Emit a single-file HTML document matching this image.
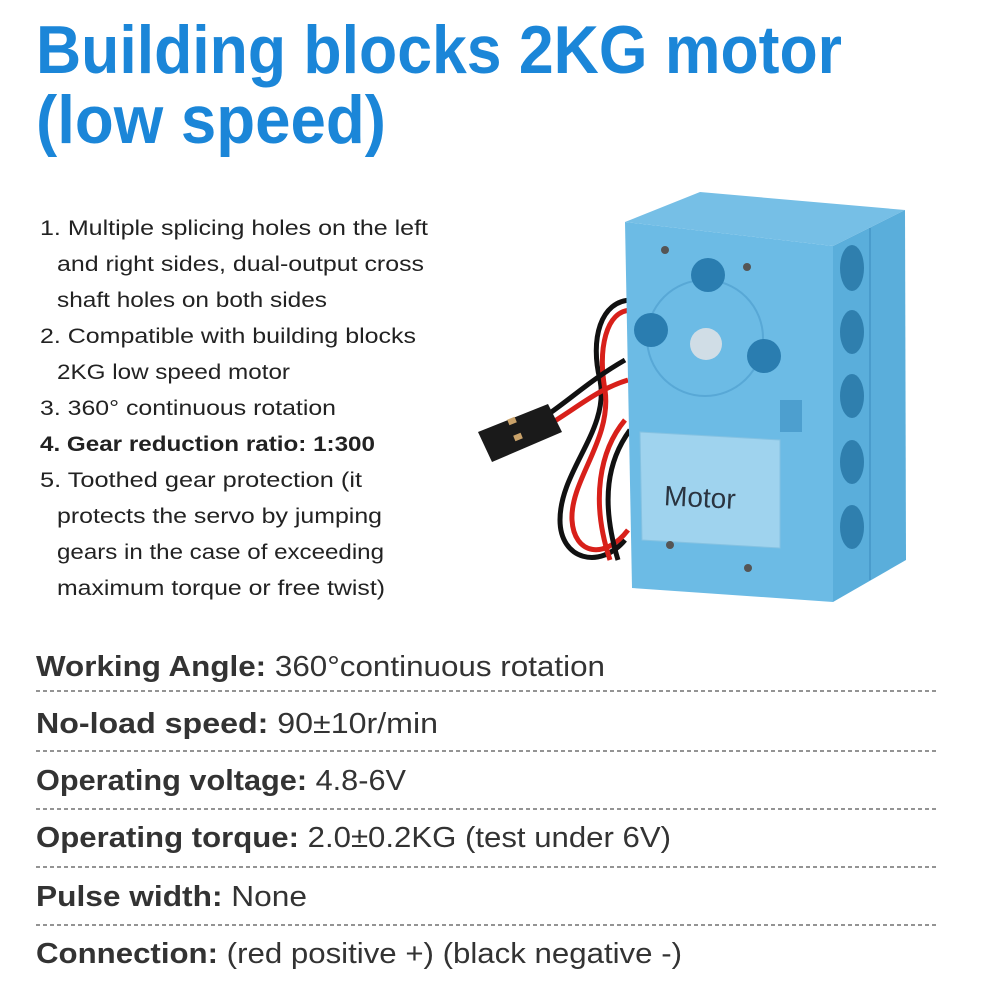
<!DOCTYPE html>
<html><head><meta charset="utf-8"><style>
html,body{margin:0;padding:0;background:#fff;}
svg{display:block}
.t{font-family:"Liberation Sans","Noto Sans CJK SC",sans-serif;font-weight:bold;fill:#1b86d8;font-size:68px}
.l{font-family:"Liberation Sans","Noto Sans CJK SC",sans-serif;font-size:21px;fill:#222}
.s{font-family:"Liberation Sans","Noto Sans CJK SC",sans-serif;font-size:29px;fill:#333}
.b{font-weight:bold}
</style></head><body>
<svg width="1000" height="1000" viewBox="0 0 1000 1000" xmlns="http://www.w3.org/2000/svg">
<text class="t" x="36" y="73" textLength="806" lengthAdjust="spacingAndGlyphs">Building blocks 2KG motor</text>
<text class="t" x="36" y="143" textLength="350" lengthAdjust="spacingAndGlyphs">(low speed)</text>

<g class="l">
<text x="40" y="235" textLength="388" lengthAdjust="spacingAndGlyphs">1. Multiple splicing holes on the left</text>
<text x="57" y="271" textLength="367" lengthAdjust="spacingAndGlyphs">and right sides, dual-output cross</text>
<text x="57" y="307" textLength="270" lengthAdjust="spacingAndGlyphs">shaft holes on both sides</text>
<text x="40" y="343" textLength="376" lengthAdjust="spacingAndGlyphs">2. Compatible with building blocks</text>
<text x="57" y="379" textLength="233" lengthAdjust="spacingAndGlyphs">2KG low speed motor</text>
<text x="40" y="415" textLength="296" lengthAdjust="spacingAndGlyphs">3. 360° continuous rotation</text>
<text x="40" y="451" class="b" textLength="335" lengthAdjust="spacingAndGlyphs">4. Gear reduction ratio: 1:300</text>
<text x="40" y="487" textLength="322" lengthAdjust="spacingAndGlyphs">5. Toothed gear protection (it</text>
<text x="57" y="523" textLength="325" lengthAdjust="spacingAndGlyphs">protects the servo by jumping</text>
<text x="57" y="559" textLength="327" lengthAdjust="spacingAndGlyphs">gears in the case of exceeding</text>
<text x="57" y="595" textLength="328" lengthAdjust="spacingAndGlyphs">maximum torque or free twist)</text>
</g>

<!-- motor -->
<g>
<!-- wires -->
<path d="M632 300 C600 300 590 340 600 380 C610 430 560 470 560 520 C560 560 600 570 625 540" fill="none" stroke="#111" stroke-width="5"/>
<path d="M632 310 C605 310 598 350 605 390 C612 440 570 480 572 520 C574 555 605 560 628 530" fill="none" stroke="#d8201a" stroke-width="5"/>
<path d="M540 420 C570 400 590 380 625 360" fill="none" stroke="#111" stroke-width="5"/>
<path d="M540 430 C575 410 595 390 628 380" fill="none" stroke="#d8201a" stroke-width="5"/>
<path d="M625 420 C600 450 590 500 610 560" fill="none" stroke="#d8201a" stroke-width="5"/>
<path d="M630 430 C608 460 600 500 618 560" fill="none" stroke="#111" stroke-width="5"/>
<polygon points="478,432 548,404 562,432 492,462" fill="#1a1a1a"/>
<rect x="508" y="418" width="8" height="6" fill="#c9a26a" transform="rotate(-22 512 421)"/>
<rect x="514" y="434" width="8" height="6" fill="#c9a26a" transform="rotate(-22 518 437)"/>
<!-- top face -->
<polygon points="625,222 700,192 905,210 833,246" fill="#76bfe6"/>
<!-- side face -->
<polygon points="833,246 905,210 906,560 833,602" fill="#5aaedb"/>
<!-- front face -->
<polygon points="625,222 833,246 833,602 632,588" fill="#6cbbe5"/>
<line x1="870" y1="228" x2="870" y2="580" stroke="#4a9ccc" stroke-width="2"/>
<g fill="#2f7fae">
<ellipse cx="852" cy="268" rx="12" ry="23"/>
<ellipse cx="852" cy="332" rx="12" ry="22"/>
<ellipse cx="852" cy="396" rx="12" ry="22"/>
<ellipse cx="852" cy="462" rx="12" ry="22"/>
<ellipse cx="852" cy="527" rx="12" ry="22"/>
</g>
<circle cx="705" cy="338" r="58" fill="none" stroke="#58a8d6" stroke-width="2"/>
<g fill="#2a7db0">
<circle cx="708" cy="275" r="17"/>
<circle cx="651" cy="330" r="17"/>
<circle cx="764" cy="356" r="17"/>
</g>
<circle cx="706" cy="344" r="16" fill="#d0dde6"/>
<rect x="780" y="400" width="22" height="32" fill="#4d9fcf"/>
<polygon points="640,432 780,440 780,548 642,540" fill="#9fd3ee" stroke="#85c2e2"/>
<text x="664" y="507" font-family="Liberation Sans,sans-serif" font-size="28" fill="#2a3440" transform="rotate(3 700 500)">Motor</text>
<g fill="#555"><circle cx="665" cy="250" r="4"/><circle cx="747" cy="267" r="4"/><circle cx="670" cy="545" r="4"/><circle cx="748" cy="568" r="4"/></g>
</g>

<g class="s">
<text x="36" y="676" textLength="569" lengthAdjust="spacingAndGlyphs"><tspan class="b">Working Angle:</tspan> 360°continuous rotation</text>
<text x="36" y="733" textLength="402" lengthAdjust="spacingAndGlyphs"><tspan class="b">No-load speed:</tspan> 90±10r/min</text>
<text x="36" y="790" textLength="370" lengthAdjust="spacingAndGlyphs"><tspan class="b">Operating voltage:</tspan> 4.8-6V</text>
<text x="36" y="847" textLength="635" lengthAdjust="spacingAndGlyphs"><tspan class="b">Operating torque:</tspan> 2.0±0.2KG (test under 6V)</text>
<text x="36" y="906" textLength="271" lengthAdjust="spacingAndGlyphs"><tspan class="b">Pulse width:</tspan>  None</text>
<text x="36" y="963" textLength="646" lengthAdjust="spacingAndGlyphs"><tspan class="b">Connection:</tspan>  (red positive +) (black negative -)</text>
</g>
<g stroke="#555" stroke-width="1.2" stroke-dasharray="4 3">
<line x1="36" y1="691" x2="937" y2="691"/>
<line x1="36" y1="751" x2="937" y2="751"/>
<line x1="36" y1="809" x2="937" y2="809"/>
<line x1="36" y1="867" x2="937" y2="867"/>
<line x1="36" y1="925" x2="937" y2="925"/>
</g>
</svg>
</body></html>
